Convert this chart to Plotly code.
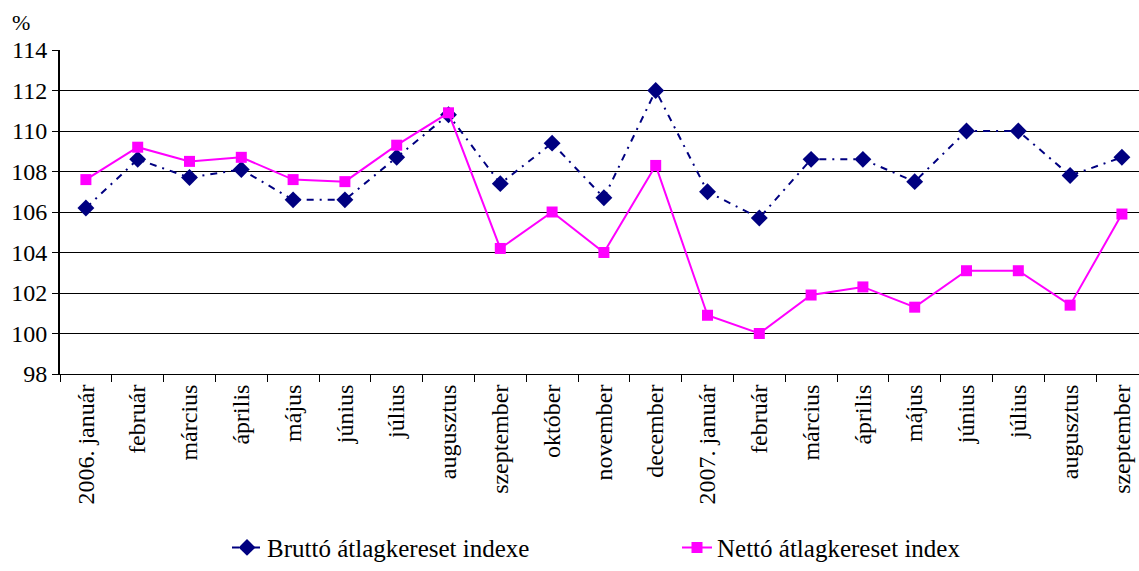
import plotly.graph_objects as go

labels = ["2006. január", "február", "március", "április", "május", "június", "július",
          "augusztus", "szeptember", "október", "november", "december", "2007. január",
          "február", "március", "április", "május", "június", "július", "augusztus", "szeptember"]
brutto = [106.2, 108.6, 107.7, 108.1, 106.6, 106.6, 108.7, 110.8, 107.4, 109.4, 106.7, 112.0,
          107.0, 105.7, 108.6, 108.6, 107.5, 110.0, 110.0, 107.8, 108.7]
netto = [107.6, 109.2, 108.5, 108.7, 107.6, 107.5, 109.3, 110.9, 104.2, 106.0, 104.0, 108.3,
         100.9, 100.0, 101.9, 102.3, 101.3, 103.1, 103.1, 101.4, 105.9]
y_ticks = list(range(98, 115, 2))

x = list(range(len(labels)))
FONT = "Liberation Serif"

fig = go.Figure()
fig.add_trace(go.Scatter(
    x=x, y=brutto, name="Bruttó átlagkereset indexe", mode="lines+markers",
    line=dict(color="#000080", width=2, dash="7px,6px,2px,6px"),
    marker=dict(symbol="diamond", size=13, color="#000080"),
    cliponaxis=False,
))
fig.add_trace(go.Scatter(
    x=x, y=netto, name="Nettó átlagkereset index", mode="lines+markers",
    line=dict(color="#FF00FF", width=2),
    marker=dict(symbol="square", size=11, color="#FF00FF"),
    cliponaxis=False,
))

fig.update_layout(
    width=1139, height=571,
    margin=dict(l=60, r=0, t=50, b=191),
    paper_bgcolor="white", plot_bgcolor="white",
    font=dict(family=FONT, size=24, color="black"),
    showlegend=True,
    legend=dict(orientation="h", x=(227 - 60) / 1079, xanchor="left", y=-0.536, yanchor="middle",
                entrywidth=405, entrywidthmode="pixels",
                font=dict(family=FONT, size=25, color="black"), bgcolor="rgba(0,0,0,0)"),
    annotations=[dict(text="%", xref="paper", yref="paper", x=-0.036, y=1.085,
                      xanchor="center", yanchor="middle", showarrow=False,
                      font=dict(family=FONT, size=22, color="black"))],
)
fig.update_xaxes(
    range=[-0.5, 20.33], tickmode="array", tickvals=x, ticktext=labels,
    tickangle=-90, ticks="", showgrid=False, zeroline=False,
    showline=True, linecolor="black", linewidth=1,
    tickfont=dict(family=FONT, size=24, color="black"),
    minor=dict(tickmode="array", tickvals=[i - 0.5 for i in range(len(labels) + 1)],
               ticks="outside", ticklen=7, tickcolor="black", tickwidth=1, showgrid=False),
)
fig.update_yaxes(
    range=[98, 114], tickmode="array", tickvals=y_ticks,
    ticks="outside", ticklen=6, tickcolor="black",
    showgrid=True, gridcolor="black", gridwidth=1, zeroline=False,
    showline=True, linecolor="black", linewidth=2,
    tickfont=dict(family=FONT, size=24, color="black"),
)

fig.write_html("out.html", config={"displayModeBar": False},
               post_script="document.body.style.margin='0';document.body.style.overflow='hidden';")
